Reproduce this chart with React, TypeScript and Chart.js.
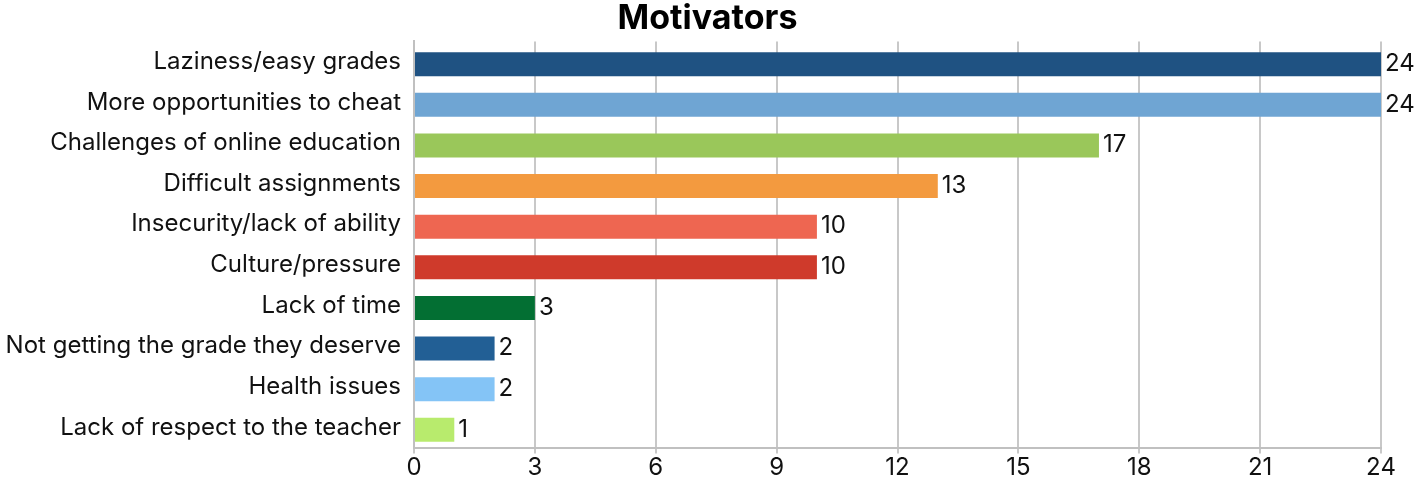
import React, { useEffect, useRef } from "react";
import { Chart, registerables } from "chart.js";

Chart.register(...registerables);

const categories = [
  "Laziness/easy grades",
  "More opportunities to cheat",
  "Challenges of online education",
  "Difficult assignments",
  "Insecurity/lack of ability",
  "Culture/pressure",
  "Lack of time",
  "Not getting the grade they deserve",
  "Health issues",
  "Lack of respect to the teacher",
];
const values = [24, 24, 17, 13, 10, 10, 3, 2, 2, 1];
const barColors = [
  "#1F5282",
  "#6FA5D3",
  "#9AC75A",
  "#F39A3F",
  "#EE6651",
  "#CF3A2B",
  "#036F33",
  "#225F95",
  "#84C4F6",
  "#B8EB6D",
];
const titleText = "Motivators";

const FONT = "Inter, 'Liberation Sans', Arial, sans-serif";
const BAR_SHIFT = 2.5;

const barShift = {
  id: "barShift",
  beforeDatasetsDraw(chart: any) {
    chart.ctx.save();
    chart.ctx.translate(0, BAR_SHIFT);
  },
  afterDatasetsDraw(chart: any) {
    chart.ctx.restore();
  },
};

const valueLabels = {
  id: "valueLabels",
  afterDatasetsDraw(chart: any) {
    const ctx = chart.ctx;
    const meta = chart.getDatasetMeta(0);
    ctx.save();
    ctx.font = `24px ${FONT}`;
    ctx.fillStyle = "#111";
    ctx.textAlign = "left";
    ctx.textBaseline = "middle";
    meta.data.forEach((bar: any, i: number) => {
      ctx.fillText(String(values[i]), bar.x + 4, bar.y + 2);
    });
    ctx.restore();
  },
};

export default function App() {
  const ref = useRef<HTMLCanvasElement | null>(null);
  useEffect(() => {
    document.body.style.margin = "0";
    const chart = new Chart(ref.current as HTMLCanvasElement, {
      type: "bar",
      data: {
        labels: categories,
        datasets: [
          {
            data: values,
            backgroundColor: barColors,
            barPercentage: 0.59,
            categoryPercentage: 1,
          },
        ],
      },
      options: {
        indexAxis: "y",
        animation: false,
        responsive: false,
        layout: { padding: { left: 0, right: 0, top: 0, bottom: 0 } },
        plugins: {
          legend: { display: false },
          tooltip: { enabled: false },
          title: {
            display: true,
            text: titleText,
            color: "#000",
            font: { family: FONT, size: 34, weight: "bold", lineHeight: 1.1 },
            padding: { top: 0, bottom: 4 },
          },
        },
        scales: {
          x: {
            min: 0,
            max: 24,
            ticks: {
              stepSize: 3,
              color: "#111",
              font: { family: FONT, size: 24, lineHeight: 1.1 },
              padding: 1,
            },
            grid: {
              color: "#C8C8C8",
              lineWidth: 2,
              tickLength: 6,
              drawTicks: true,
            },
            border: { color: "#C0C0C0", width: 2 },
          },
          y: {
            ticks: {
              color: "#111",
              font: { family: FONT, size: 24 },
              padding: 13,
            },
            grid: { display: false, drawTicks: false },
            border: { color: "#C0C0C0", width: 2 },
            afterFit(scale: any) {
              scale.width = 414;
            },
          },
          yRight: {
            type: "linear",
            position: "right",
            display: true,
            ticks: { display: false },
            grid: { display: false, drawTicks: false },
            border: { display: false },
            afterFit(scale: any) {
              scale.width = 34;
            },
          },
        },
      },
      plugins: [barShift, valueLabels],
    });
    return () => chart.destroy();
  }, []);
  return <canvas ref={ref} width={1415} height={482} />;
}
